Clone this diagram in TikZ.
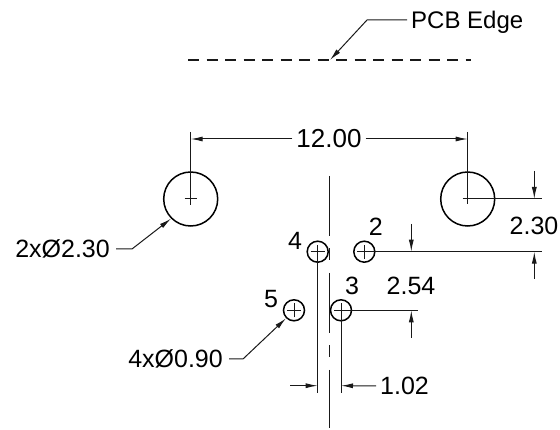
\documentclass[tikz,border=0pt]{standalone}
\usepackage{fontspec}
\setmainfont{Liberation Sans}
\usetikzlibrary{arrows.meta}
\tikzset{
    thin line/.style={line width=1pt,black!90},
    dim/.style={thin line,-{Latex[length=12pt,width=5pt]}},
    lbl/.style={inner sep=0pt,font=\fontsize{25}{28}\selectfont},
    hole/.style={draw,circle,inner sep=0pt,line width=1.5pt}
}
\newcommand{\hole}[4]{\node[hole,minimum size=#4pt] (#1) at (#2,#3) {};}
\newcommand{\crosshair}[2]{\draw[thin line] ([xshift=-#2pt]#1.center) -- ([xshift=#2pt]#1.center);
    \draw[thin line] ([yshift=-#2pt]#1.center) -- ([yshift=#2pt]#1.center);}
\newcommand{\spot}[3]{\coordinate (#1) at (#2,#3);}
\newcommand{\lineto}[2]{\draw[thin line] (#1) -- (#2);}
\newcommand{\dimto}[2]{\draw[dim] (#1) -- (#2);}

\begin{document}
\begin{tikzpicture}[x=1pt,y=-1pt]
    \useasboundingbox (0,0) rectangle (560,430);
    % holes
    \hole{bigL}{190.7}{199}{54}    \hole{bigR}{467.7}{199}{54}
    \hole{pinA}{364.3}{251.7}{21}  \hole{pinB}{341}{310.3}{21}
    \hole{pinC}{317.7}{251.7}{21}  \hole{pinD}{294}{310.3}{21}
    \crosshair{bigL}{6}\crosshair{bigR}{5}
    \crosshair{pinA}{7}\crosshair{pinB}{7}
    \crosshair{pinC}{7}\crosshair{pinD}{7}
    \node[lbl] (numA) at (375.7,226.7) {2}; \node[lbl] (numB) at (352,286) {3};
    \node[lbl] (numC) at (295,240.7) {4};   \node[lbl] (numD) at (271,299) {5};

    % pcb edge
    \spot{edgeL}{188}{60} \spot{edgeR}{471}{60} \spot{edgeTip}{330}{60}
    \draw[thin line,line width=1.3pt,dash pattern=on 11pt off 7.5pt] (edgeL) -- (edgeR);
    \node[lbl,anchor=west,font=\fontsize{24}{28}\selectfont] (edgeTxt) at (411,22) {PCB Edge};
    \spot{edgeStart}{407}{20} \spot{edgeBend}{367}{20}
    \draw[dim] (edgeStart) -- (edgeBend) -- (edgeTip);

    % center line
    \spot{axisT}{329.3}{176} \spot{axisB}{329.3}{428}
    \draw[thin line,dash pattern=on 60pt off 12.5pt on 12pt off 12.5pt] (axisT) -- (axisB);

    % 12.00
    \node[lbl,font=\fontsize{26}{28}\selectfont] (wide) at (329,139) {12.00};
    \spot{wideL}{190.7}{139} \spot{wideR}{467.7}{139}
    \spot{extL}{190.7}{132} \spot{extR}{467.7}{132}
    \lineto{extL}{bigL.center}\lineto{extR}{bigR.center}
    \draw[dim] ([xshift=-4pt]wide.west) -- (wideL);
    \draw[dim] ([xshift=4pt]wide.east) -- (wideR);

    % 2.30
    \node[lbl] (highTxt) at (534,226) {2.30};
    \spot{highEnd}{541.7}{199} \spot{lowEnd}{541.7}{251.7}
    \spot{highTop}{534.3}{171} \spot{highTip}{534.3}{199}
    \spot{lowBot}{534.3}{279}  \spot{lowTip}{534.3}{251.7}
    \lineto{bigR.center}{highEnd}\lineto{pinA.center}{lowEnd}
    \dimto{highTop}{highTip}\dimto{lowBot}{lowTip}

    % 2.54
    \node[lbl] (pitchTxt) at (411,286) {2.54};
    \spot{pinBEnd}{418}{310.3}
    \spot{pitchTop}{411.3}{224} \spot{pitchTip}{411.3}{251.7}
    \spot{pitchBot}{411.3}{337.7} \spot{pitchUp}{411.3}{310.3}
    \lineto{pinB.center}{pinBEnd}
    \dimto{pitchTop}{pitchTip}\dimto{pitchBot}{pitchUp}

    % 1.02
    \node[lbl,anchor=west] (gapTxt) at (380,386) {1.02};
    \spot{gapC}{317.7}{392.7} \spot{gapB}{341}{392.7}
    \spot{gapFree}{290}{385.7} \spot{gapTipC}{317.7}{385.7} \spot{gapTipB}{341}{385.7}
    \lineto{pinC.center}{gapC}\lineto{pinB.center}{gapB}
    \dimto{gapFree}{gapTipC}
    \draw[dim] ([xshift=-4pt]gapTxt.west) -- (gapTipB);

    % hole callouts
    \node[lbl,anchor=east] (bigTxt) at (110,249) {2xØ2.30};
    \spot{bigBend}{132}{249}
    \draw[dim] ([xshift=6pt]bigTxt.east) -- (bigBend) -- (bigL.225);
    \node[lbl,anchor=east] (pinTxt) at (223,359) {4xØ0.90};
    \spot{pinBend}{243}{359}
    \draw[dim] ([xshift=6pt]pinTxt.east) -- (pinBend) -- (pinD.225);
\end{tikzpicture}
\end{document}
